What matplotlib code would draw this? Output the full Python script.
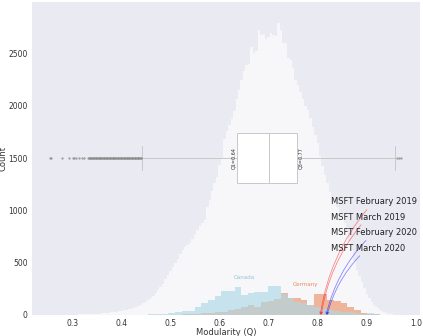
import numpy as np
import matplotlib
matplotlib.use("Agg")
import matplotlib.pyplot as plt
import seaborn as sns

# overall modularity distribution (bin width 0.005, left edges from 0.2475)
all_counts = [1, 0, 1, 1, 0, 2, 1, 2, 2, 3,
              3, 4, 4, 5, 6, 6, 8, 9, 10, 11,
              13, 14, 16, 18, 20, 22, 25, 29, 33, 37,
              40, 44, 48, 53, 60, 67, 78, 88, 100, 115,
              128, 145, 162, 185, 210, 235, 265, 300, 340, 385,
              420, 460, 500, 540, 580, 620, 650, 670, 690, 730,
              770, 810, 850, 880, 910, 1030, 1100, 1190, 1260, 1320,
              1430, 1500, 1680, 1760, 1820, 1870, 1950, 2060, 2150, 2250,
              2330, 2390, 2400, 2565, 2500, 2520, 2722, 2675, 2690, 2640,
              2658, 2700, 2675, 2670, 2789, 2722, 2600, 2596, 2454, 2440,
              2358, 2250, 2200, 2130, 2060, 2000, 1958, 1880, 1796, 1720,
              1643, 1520, 1420, 1340, 1260, 1180, 1130, 1080, 1030, 980,
              950, 880, 800, 710, 620, 520, 430, 370, 320, 260,
              200, 160, 120, 100, 80, 60, 40, 25, 15, 8,
              6, 3]

# Canada / Germany (bin width 0.0135, left edge 0.455)
canada = [6, 10, 10, 16, 32, 41, 41, 80, 110, 143,
          181, 232, 232, 270, 191, 207, 216, 216, 277, 277,
          197, 159, 127, 111, 95, 80, 60, 50, 40, 30,
          25, 15, 10, 20, 8, 4]
germany = [0, 0, 0, 0, 3, 5, 8, 10, 15, 20,
           25, 32, 48, 55, 80, 95, 80, 127, 137, 150,
           207, 159, 160, 143, 95, 197, 197, 143, 135, 111,
           80, 48, 20, 10, 5, 2]

# boxplot summary
q1, med, q3 = 0.636, 0.70, 0.758
q1_label, q3_label = "Q1=0.64", "Q3=0.77"
whislo, whishi = 0.442, 0.958
fliers_low_sparse = [0.254, 0.257, 0.279, 0.294, 0.301, 0.304, 0.308, 0.314,
                     0.320, 0.324, 0.331]
fliers_low_dense = [0.334, 0.3355, 0.337, 0.3385, 0.340, 0.3415, 0.343, 0.3445,
                    0.346, 0.3475, 0.349, 0.3505, 0.352, 0.3535, 0.355, 0.3565,
                    0.358, 0.3595, 0.361, 0.3625, 0.364, 0.3655, 0.367, 0.3685,
                    0.370, 0.3715, 0.373, 0.3745, 0.376, 0.3775, 0.379, 0.3805,
                    0.382, 0.3835, 0.385, 0.3865, 0.388, 0.3895, 0.391, 0.3925,
                    0.394, 0.3955, 0.397, 0.3985, 0.400, 0.4015, 0.403, 0.4045,
                    0.406, 0.4075, 0.409, 0.4105, 0.412, 0.4135, 0.415, 0.4165,
                    0.418, 0.4195, 0.421, 0.4225, 0.424, 0.4255, 0.427, 0.4285,
                    0.430, 0.4315, 0.433, 0.4345, 0.436, 0.4375, 0.439, 0.4405]
fliers_high = [0.962, 0.965, 0.969]

msft_labels = ["MSFT February 2019", "MSFT March 2019",
               "MSFT February 2020", "MSFT March 2020"]
msft_q = [0.805, 0.807, 0.817, 0.819]
msft_text_y = [1082, 936, 786, 640]
msft_colors = ["red", "red", "blue", "blue"]


def main():
    sns.set_style("dark")
    plt.rcParams["font.family"] = ["DejaVu Sans"]
    fig = plt.figure(figsize=(4.23, 3.36), dpi=100)
    ax = fig.add_axes([0.0757, 0.0625, 0.917, 0.931])
    ax.set_facecolor("#EAEAF2")

    edges = 0.2475 + 0.005 * np.arange(len(all_counts) + 1)
    ax.hist(edges[:-1], edges, weights=all_counts, color="white", alpha=0.65,
            linewidth=0, zorder=1)

    fliers = fliers_low_sparse + fliers_low_dense + fliers_high
    stats = [dict(med=med, q1=q1, q3=q3, whislo=whislo, whishi=whishi, fliers=fliers)]
    ax.bxp(stats, positions=[1500], widths=470, vert=False, patch_artist=True,
           boxprops=dict(facecolor="white", edgecolor="#c8c8c8", linewidth=0.7),
           medianprops=dict(color="#c8c8c8", linewidth=0.7),
           whiskerprops=dict(color="#c8c8c8", linewidth=0.7),
           capprops=dict(color="#c8c8c8", linewidth=0.7),
           flierprops=dict(marker="o", markersize=1.3, markeredgecolor="#8a8a8a",
                           markerfacecolor="#8a8a8a", markeredgewidth=0.3, alpha=0.7),
           manage_ticks=False, zorder=3)
    ax.text(q1 - 0.003, 1500, q1_label, rotation=90, ha="right", va="center",
            fontsize=3.5, color="#333333", zorder=4)
    ax.text(q3 + 0.003, 1500, q3_label, rotation=90, ha="left", va="center",
            fontsize=3.5, color="#333333", zorder=4)

    cedges = 0.455 + 0.0135 * np.arange(len(canada) + 1)
    ax.hist(cedges[:-1], cedges, weights=germany, color="#E8895A", alpha=0.6,
            linewidth=0, zorder=5)
    ax.hist(cedges[:-1], cedges, weights=canada, color="lightblue", alpha=0.65,
            linewidth=0, zorder=6)
    ax.text(0.65, 363, "Canada", color="#8EC4D6", fontsize=4, ha="center", va="center")
    ax.text(0.775, 296, "Germany", color="#E8895A", fontsize=4, ha="center", va="center")

    for lab, q, ty, c in zip(msft_labels, msft_q, msft_text_y, msft_colors):
        ax.annotate(lab, xy=(q, 0), xytext=(0.826, ty), fontsize=6, color="#222222",
                    va="center", ha="left", zorder=7,
                    arrowprops=dict(arrowstyle="->,head_length=0.25,head_width=0.12",
                                    color=c, alpha=0.45, lw=0.6,
                                    connectionstyle="arc3,rad=0.15",
                                    shrinkA=0, shrinkB=0))

    ax.set_xlim(0.218, 1.008)
    ax.set_ylim(0, 2990)
    ax.set_xticks([0.3, 0.4, 0.5, 0.6, 0.7, 0.8, 0.9, 1.0])
    ax.set_xticklabels(["0.3", "0.4", "0.5", "0.6", "0.7", "0.8", "0.9", "1.0"])
    ax.set_yticks([0, 500, 1000, 1500, 2000, 2500])
    ax.tick_params(labelsize=5.5, length=1.5, width=0.5, color="#cccccc", pad=1.5,
                   labelcolor="#333333")
    ax.set_xlabel("Modularity (Q)", fontsize=6, labelpad=0, color="#333333")
    ax.set_ylabel("Count", fontsize=6, labelpad=0.5, color="#333333")
    for s in ax.spines.values():
        s.set_visible(False)

    fig.savefig("out.png", dpi=100)
    plt.close()


if __name__ == "__main__":
    main()
